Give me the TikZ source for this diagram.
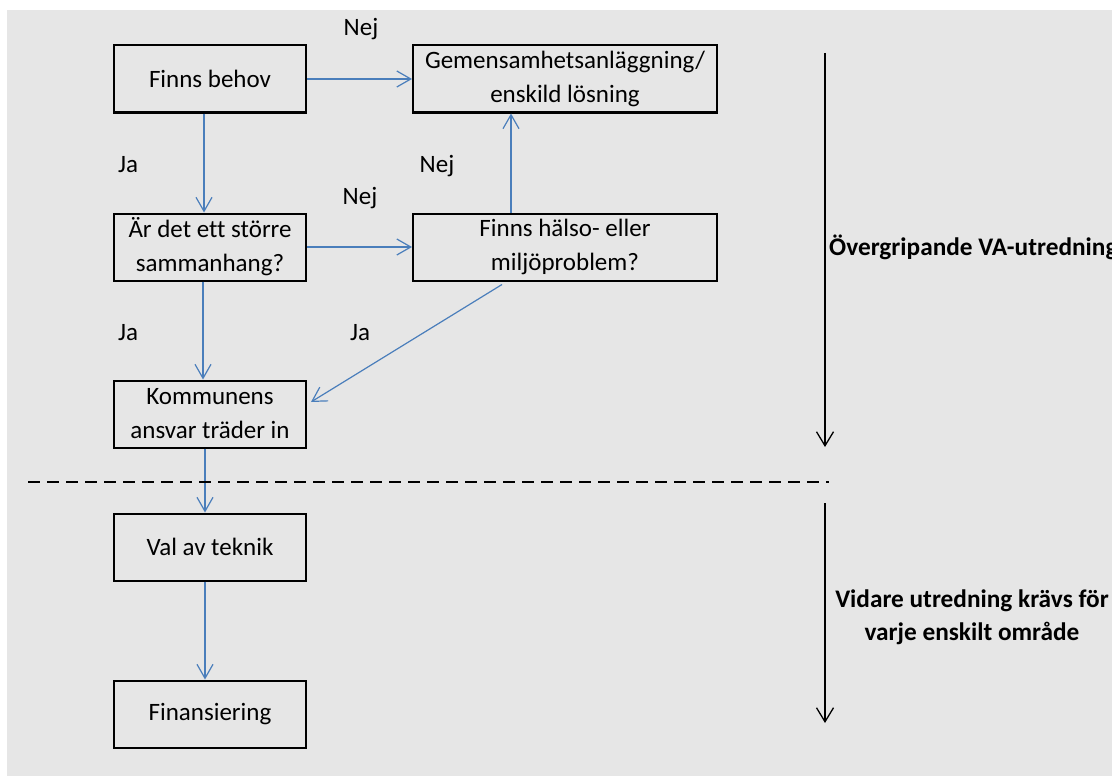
\documentclass[tikz,border=0pt]{standalone}
\usepackage{fontspec}
\setmainfont{Carlito}[Ligatures={NoCommon}]
\usetikzlibrary{arrows.meta,calc}
\definecolor{bg}{RGB}{230,230,230}
\definecolor{arrowblue}{RGB}{74,126,187}
\begin{document}
\begin{tikzpicture}[x=1pt,y=-1pt,
  box/.style={draw=black,line width=2pt,minimum width=192pt,minimum height=67pt,inner sep=0pt,align=center,font=\fontsize{25}{34}\selectfont},
  widebox/.style={box,minimum width=304pt},
  flow/.style={draw=arrowblue,line width=1.2pt,-{Straight Barb[length=14pt,width=16pt,line width=1.2pt]}},
  phase/.style={draw=black,line width=1.3pt,-{Straight Barb[length=14pt,width=17pt,line width=1.3pt]}},
  lbl/.style={anchor=base,inner sep=0pt,font=\fontsize{25}{34}\selectfont},
  bold/.style={inner sep=0pt,align=center,font=\fontsize{25.3}{33}\selectfont\bfseries}]
\useasboundingbox (0,0) rectangle (1112,776);
\clip (0,0) rectangle (1112,776);
\fill[bg] (7,10) rectangle (1112,776);

% boxes
\node[box] (fb) at (210,79) {Finns behov};
\node[widebox] (gem) at (565,79) {Gemensamhetsanläggning/\\enskild lösning};
\node[box] (ar) at (210,247) {Är det ett större\\sammanhang?};
\node[widebox] (fh) at (565,247) {Finns hälso- eller\\miljöproblem?};
\node[box] (kom) at (210,414) {Kommunens\\ansvar träder in};
\node[box] (val) at (210,547) {Val av teknik};
\node[box] (fin) at (210,714) {Finansiering};

% connectors
\draw[flow] (fb.east) -- (gem.west);
\draw[flow] ([xshift=-6pt]fb.south) -- ([xshift=-6pt]ar.north);
\draw[flow] ([xshift=-54pt]fh.north) -- ([xshift=-54pt]gem.south);
\draw[flow] (ar.east) -- (fh.west);
\draw[flow] ([xshift=-7pt]ar.south) -- ([xshift=-7pt]kom.north);
\draw[flow] ([xshift=-63pt,yshift=-3pt]fh.south) -- ([xshift=4pt,yshift=12pt]kom.east);
\draw[flow] ([xshift=-5pt]kom.south) -- ([xshift=-5pt]val.north);
\draw[flow] ([xshift=-5pt]val.south) -- ([xshift=-5pt]fin.north);

% labels
\node[lbl] (n1) at (361,36) {Nej};
\node[lbl] (j1) at (128,172) {Ja};
\node[lbl] (n2) at (437,172) {Nej};
\node[lbl] (n3) at (360,204) {Nej};
\node[lbl] (j2) at (128,340) {Ja};
\node[lbl] (j3) at (360,340) {Ja};

% phase separator and arrows
\coordinate (d1) at (28,482);
\coordinate (d2) at (829,482);
\draw[black,line width=1.3pt,dash pattern=on 12pt off 7pt] (d1) -- (d2);
\coordinate (p1s) at (825,53);
\coordinate (p1e) at (825,447);
\coordinate (p2s) at (825,503);
\coordinate (p2e) at (825,723);
\draw[phase] (p1s) -- (p1e);
\draw[phase] (p2s) -- (p2e);

\node[bold,anchor=base west] (ph1) at (829,255) {Övergripande VA-utredning};
\node[bold,anchor=base] (ph2) at (972,607) {Vidare utredning krävs för};
\node[bold,anchor=base] (ph3) at (972,640) {varje enskilt område};
\end{tikzpicture}
\end{document}
